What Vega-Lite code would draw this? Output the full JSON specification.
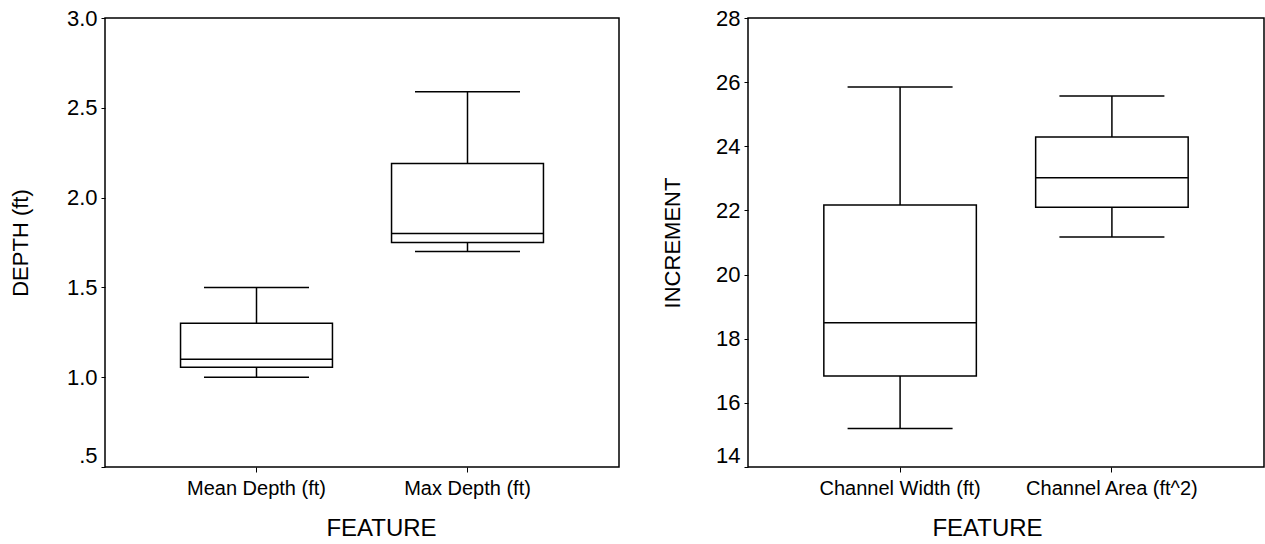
{
  "$schema": "https://vega.github.io/schema/vega-lite/v6.json",
  "background": "white",
  "padding": {"left": 8, "top": 6, "right": 0, "bottom": 0},
  "spacing": 40,
  "config": {
    "view": {"stroke": "black", "strokeWidth": 1.5},
    "font": "Liberation Sans",
    "axis": {"domain": false, "grid": false, "tickColor": "black", "labelColor": "black", "titleColor": "black", "titleFontWeight": "normal", "labelFont": "Liberation Sans", "titleFont": "Liberation Sans"}
  },
  "datasets": {
    "depth": [
      {"feature": "Mean Depth (ft)", "low": 1.0, "q1": 1.055, "median": 1.1, "q3": 1.3, "high": 1.5},
      {"feature": "Max Depth (ft)", "low": 1.7, "q1": 1.75, "median": 1.8, "q3": 2.19, "high": 2.59}
    ],
    "inc": [
      {"feature": "Channel Width (ft)", "low": 15.2, "q1": 16.84, "median": 18.5, "q3": 22.17, "high": 25.85},
      {"feature": "Channel Area (ft^2)", "low": 21.17, "q1": 22.1, "median": 23.02, "q3": 24.29, "high": 25.57}
    ]
  },
  "hconcat": [
    {
      "width": 514,
      "height": 449,
      "data": {"name": "depth"},
      "encoding": {
        "x": {"field": "feature", "type": "nominal", "sort": null, "title": "FEATURE",
          "scale": {"paddingInner": 0, "paddingOuter": 0.218},
          "axis": {"labelAngle": 0, "labelFontSize": 20, "titleFontSize": 24, "tickSize": 5, "labelPadding": 6, "titlePadding": 18, "titleX": 276}}
      },
      "layer": [
        {"mark": {"type": "rule", "color": "black", "strokeWidth": 1.5},
         "encoding": {
           "y": {"field": "low", "type": "quantitative", "title": "DEPTH (ft)",
             "scale": {"domain": [0.5, 3.0], "nice": false, "zero": false},
             "axis": {"values": [0.5, 1, 1.5, 2, 2.5, 3], "labelExpr": "datum.value == 0.5 ? '.5' : format(datum.value, '.1f')", "labelFontSize": 22, "titleFontSize": 22, "tickSize": 4, "labelPadding": 4, "titlePadding": 34,
               "labelBaseline": {"condition": {"test": "datum.value == 0.5", "value": "bottom"}, "value": "middle"}}},
           "y2": {"field": "high"}}},
        {"mark": {"type": "bar", "fill": "white", "stroke": "black", "strokeWidth": 1.5, "opacity": 1, "width": {"band": 0.72}},
         "encoding": {"y": {"field": "q1", "type": "quantitative", "title": "DEPTH (ft)"}, "y2": {"field": "q3"}}},
        {"mark": {"type": "tick", "color": "black", "opacity": 1, "size": 105, "thickness": 1.5},
         "encoding": {"y": {"field": "low", "type": "quantitative", "title": "DEPTH (ft)"}}},
        {"mark": {"type": "tick", "color": "black", "opacity": 1, "size": 105, "thickness": 1.5},
         "encoding": {"y": {"field": "high", "type": "quantitative", "title": "DEPTH (ft)"}}},
        {"mark": {"type": "tick", "color": "black", "opacity": 1, "size": 152, "thickness": 1.5},
         "encoding": {"y": {"field": "median", "type": "quantitative", "title": "DEPTH (ft)"}}}
      ]
    },
    {
      "width": 516,
      "height": 449,
      "data": {"name": "inc"},
      "encoding": {
        "x": {"field": "feature", "type": "nominal", "sort": null, "title": "FEATURE",
          "scale": {"paddingInner": 0, "paddingOuter": 0.218},
          "axis": {"labelAngle": 0, "labelFontSize": 20, "titleFontSize": 24, "tickSize": 5, "labelPadding": 6, "titlePadding": 18, "titleX": 239}}
      },
      "layer": [
        {"mark": {"type": "rule", "color": "black", "strokeWidth": 1.5},
         "encoding": {
           "y": {"field": "low", "type": "quantitative", "title": "INCREMENT",
             "scale": {"domain": [14, 28], "nice": false, "zero": false},
             "axis": {"values": [14, 16, 18, 20, 22, 24, 26, 28], "format": "d", "labelFontSize": 22, "titleFontSize": 22, "tickSize": 4, "labelPadding": 4, "titlePadding": 31,
               "labelBaseline": {"condition": {"test": "datum.value == 14", "value": "bottom"}, "value": "middle"}}},
           "y2": {"field": "high"}}},
        {"mark": {"type": "bar", "fill": "white", "stroke": "black", "strokeWidth": 1.5, "opacity": 1, "width": {"band": 0.72}},
         "encoding": {"y": {"field": "q1", "type": "quantitative", "title": "INCREMENT"}, "y2": {"field": "q3"}}},
        {"mark": {"type": "tick", "color": "black", "opacity": 1, "size": 105, "thickness": 1.5},
         "encoding": {"y": {"field": "low", "type": "quantitative", "title": "INCREMENT"}}},
        {"mark": {"type": "tick", "color": "black", "opacity": 1, "size": 105, "thickness": 1.5},
         "encoding": {"y": {"field": "high", "type": "quantitative", "title": "INCREMENT"}}},
        {"mark": {"type": "tick", "color": "black", "opacity": 1, "size": 152, "thickness": 1.5},
         "encoding": {"y": {"field": "median", "type": "quantitative", "title": "INCREMENT"}}}
      ]
    }
  ]
}
